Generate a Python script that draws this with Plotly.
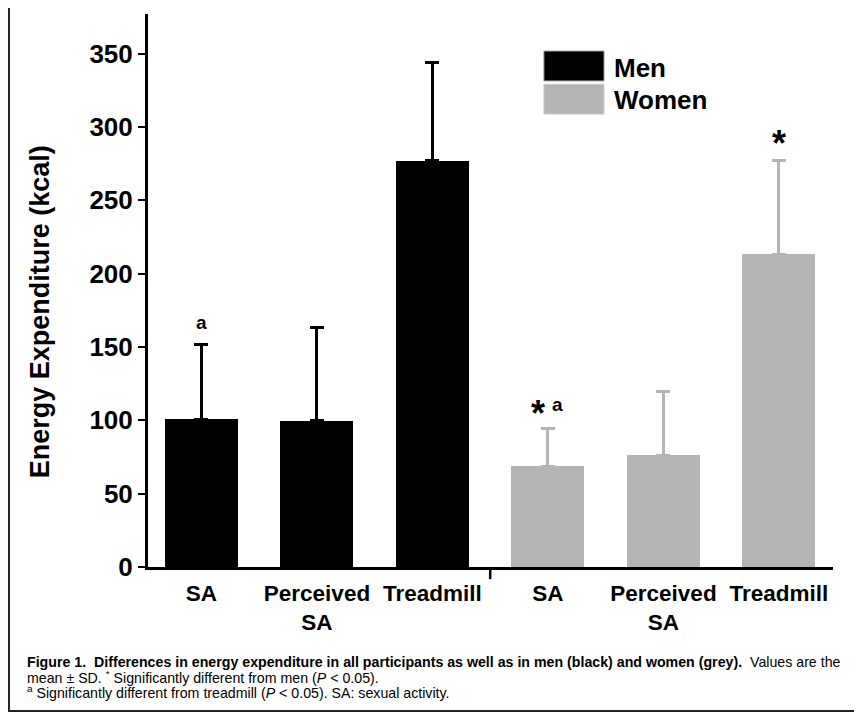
import plotly.graph_objects as go

# ---- data ----
categories = ["SA", "Perceived<br>SA", "Treadmill", "SA", "Perceived<br>SA", "Treadmill"]
men_pos = [0, 1, 2]
women_pos = [3, 4, 5]
men_mean = [100.6, 99.7, 276.8]
men_sd = [51.3, 63.3, 67.4]
women_mean = [68.8, 76.3, 213.2]
women_sd = [25.4, 43.1, 64.0]
y_ticks = [0, 50, 100, 150, 200, 250, 300, 350]

FONT = "Liberation Sans, Arial, Helvetica, sans-serif"
BLACK = "#000000"
GREY = "#b4b4b4"

fig = go.Figure()
fig.add_trace(go.Bar(
    x=men_pos, y=men_mean, width=0.632, marker=dict(color=BLACK, line=dict(width=0)),
    error_y=dict(type="data", array=men_sd, arrayminus=[0] * 3, symmetric=False,
                 color=BLACK, thickness=3, width=7),
    name="Men", showlegend=False))
fig.add_trace(go.Bar(
    x=women_pos, y=women_mean, width=0.632, marker=dict(color=GREY, line=dict(width=0)),
    error_y=dict(type="data", array=women_sd, arrayminus=[0] * 3, symmetric=False,
                 color=GREY, thickness=3, width=7),
    name="Women", showlegend=False))

annotations = []
# significance marks
annotations.append(dict(x=men_pos[0], y=men_mean[0] + men_sd[0], text="<b>a</b>",
                        showarrow=False, yanchor="bottom", yshift=9,
                        font=dict(family=FONT, size=19, color=BLACK)))
annotations.append(dict(x=women_pos[0], y=women_mean[0] + women_sd[0], text="<b>*</b>",
                        showarrow=False, yanchor="bottom", yshift=-7, xshift=-10,
                        font=dict(family=FONT, size=36, color=BLACK)))
annotations.append(dict(x=women_pos[0], y=women_mean[0] + women_sd[0], text="<b>a</b>",
                        showarrow=False, yanchor="bottom", yshift=12, xshift=10,
                        font=dict(family=FONT, size=19, color=BLACK)))
annotations.append(dict(x=women_pos[2], y=women_mean[2] + women_sd[2], text="<b>*</b>",
                        showarrow=False, yanchor="bottom", yshift=-6,
                        font=dict(family=FONT, size=36, color=BLACK)))
# y-axis title
annotations.append(dict(xref="paper", yref="paper", x=-0.158, y=0.462,
                        text="<b>Energy Expenditure (kcal)</b>", textangle=-90,
                        showarrow=False, xanchor="center", yanchor="middle",
                        font=dict(family=FONT, size=27, color=BLACK)))
# legend text
annotations.append(dict(xref="paper", yref="paper", x=0.677, y=0.903, text="<b>Men</b>",
                        showarrow=False, xanchor="left", yanchor="middle",
                        font=dict(family=FONT, size=26, color=BLACK)))
annotations.append(dict(xref="paper", yref="paper", x=0.677, y=0.845, text="<b>Women</b>",
                        showarrow=False, xanchor="left", yanchor="middle",
                        font=dict(family=FONT, size=26, color=BLACK)))
# caption
caption_lines = [
    "<b>Figure 1.  Differences in energy expenditure in all participants as well as in men (black) "
    "and women (grey).</b>  Values are the",
    "mean ± SD. <sup>*</sup> Significantly different from men (<i>P</i> &lt; 0.05).",
    "<sup>a</sup> Significantly different from treadmill (<i>P</i> &lt; 0.05). SA: sexual activity.",
]
caption_y = [-0.1718, -0.1989, -0.2260]
for txt, yy in zip(caption_lines, caption_y):
    annotations.append(dict(xref="paper", yref="paper", x=-0.18, y=yy, text=txt,
                            showarrow=False, xanchor="left", yanchor="middle", align="left",
                            font=dict(family=FONT, size=14.2, color=BLACK)))

shapes = [
    # outer frame
    dict(type="rect", xref="paper", yref="paper", x0=-0.203, x1=1.0336, y0=-0.2604, y1=1.0127,
         line=dict(color="#222222", width=2), fillcolor="rgba(0,0,0,0)", layer="below"),
    # legend swatches
    dict(type="rect", xref="paper", yref="paper", x0=0.578, x1=0.6657, y0=0.879, y1=0.933,
         line=dict(color="#999999", width=1), fillcolor=BLACK),
    dict(type="rect", xref="paper", yref="paper", x0=0.578, x1=0.6657, y0=0.819, y1=0.873,
         line=dict(color="#cccccc", width=1), fillcolor=GREY),
    # group divider tick on x axis
    dict(type="line", xref="x", yref="paper", x0=2.5, x1=2.5, y0=0, y1=-0.022,
         line=dict(color=BLACK, width=2.5)),
]

fig.update_layout(
    width=854, height=705,
    margin=dict(l=140, r=29, t=6, b=146),
    paper_bgcolor="white", plot_bgcolor="white",
    font=dict(family=FONT, color=BLACK),
    bargap=0,
    xaxis=dict(range=[-0.463, 5.468], tickmode="array", tickvals=list(range(6)),
               ticktext=["<b>" + c.replace("<br>", "</b><br><b>") + "</b>" for c in categories],
               ticks="", showline=True, linecolor=BLACK, linewidth=3,
               showgrid=False, zeroline=False, ticklabelstandoff=4,
               tickfont=dict(family=FONT, size=22.5, color=BLACK)),
    yaxis=dict(range=[0, 377], tickmode="array", tickvals=y_ticks,
               ticktext=["<b>%d</b>" % v for v in y_ticks],
               ticks="outside", ticklen=7, tickwidth=2, tickcolor=BLACK,
               showline=True, linecolor=BLACK, linewidth=3,
               showgrid=False, zeroline=False,
               tickfont=dict(family=FONT, size=26, color=BLACK)),
    annotations=annotations,
    shapes=shapes,
)

fig.write_html("out.html")
